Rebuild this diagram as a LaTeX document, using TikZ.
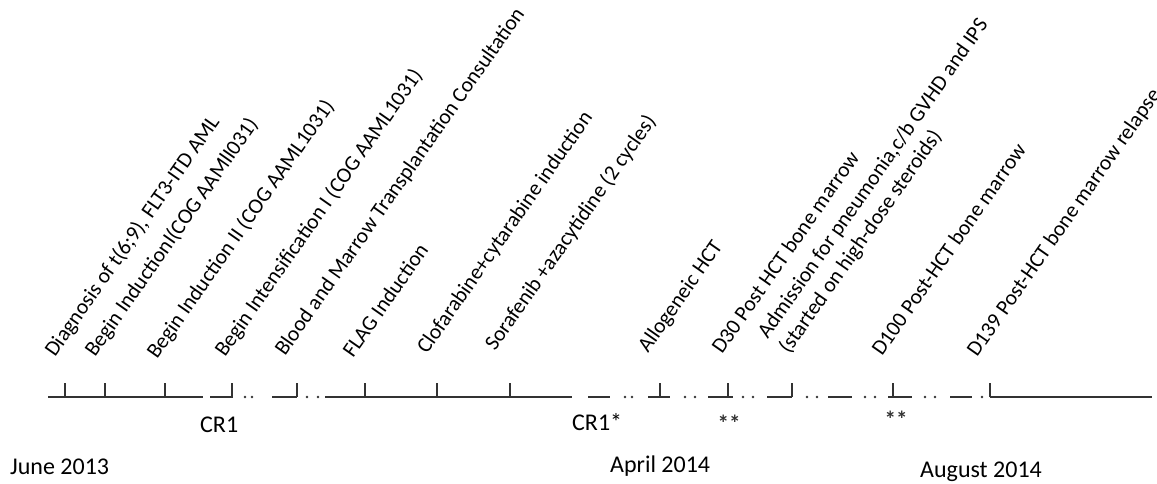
\documentclass[tikz,border=0pt]{standalone}
\usepackage{fontspec}
\setmainfont{Carlito}
\usetikzlibrary{positioning}
\definecolor{linegray}{HTML}{333333}
\tikzstyle{seg}=[draw=linegray, line width=2.6pt]
\tikzstyle{tickmark}=[draw=linegray, line width=2.2pt]
\tikzstyle{evt}=[anchor=base west, inner sep=0pt, rotate=55, font=\fontsize{21.5}{26}\selectfont, align=left]
\tikzstyle{lab}=[anchor=base west, inner sep=0pt, font=\fontsize{24}{28}\selectfont]
\tikzstyle{star}=[anchor=base, inner sep=0pt, text=linegray, font=\fontsize{23}{26}\selectfont\bfseries]

\begin{document}
\begin{tikzpicture}[x=1pt, y=-1pt]
      \useasboundingbox (0,0) rectangle (1157,484);
      % timeline pieces
      \foreach \a/\b in {48/203, 210/233, 272/297, 325/572, 588/610, 648/670,
                         708/733, 767/792, 828/852, 888/912, 950/972, 990/1152}
        \draw[seg] (\a,397) -- (\b,397);
      \foreach \x in {245,252,307,318,625,632,685,695,743,753,807,817,865,875,925,935,982}
        \fill[linegray] (\x,397) circle (1.3pt);
      %
      \foreach \n/\x in {dx/65, ind1/105, ind2/165, intens/232, bmt/297, flag/365,
                         clof/437, sora/510, hct/660, dthirty/728, adm/792,
                         dhundred/893, relapse/990} {
        \coordinate (\n) at (\x,397);
        \draw[tickmark] (\n) -- ++(0,-14);
      }
      % events
      \node[evt] (ldx) at (55,358) {Diagnosis of t(6;9), FLT3-ITD AML};
      \node[evt] (lind1) at (95,358) {Begin InductionI(COG AAMlI031)};
      \node[evt] (lind2) at (157,360) {Begin Induction II (COG AAML1031)};
      \node[evt] (lintens) at (225,358) {Begin Intensification I (COG AAML1031)};
      \node[evt] (lbmt) at (285,357) {Blood and Marrow Transplantation Consultation};
      \node[evt] (lflag) at (353,359) {FLAG Induction};
      \node[evt] (lclof) at (427,355) {Clofarabine+cytarabine induction};
      \node[evt] (lsora) at (495,352) {Sorafenib +azacytidine (2 cycles)};
      \node[evt] (lhct) at (648,354) {Allogeneic HCT};
      \node[evt] (ldthirty) at (722,355) {D30 Post HCT bone marrow};
      \node[evt] (ladm) at (789,355) {Admission for pneumonia,c/b GVHD and IPS\\(started on high-dose steroids)};
      \node[evt] (ldhundred) at (882,357) {D100 Post-HCT bone marrow};
      \node[evt] (lrelapse) at (977,358) {D139 Post-HCT bone marrow relapse};
      % below the line
      \node[lab] (cr1) at (200,432) {CR1};
      \node[lab] (cr1s) at (572,430) {CR1*};
      \node[star] (s1) at (729,431) {**};
      \node[star] (s2) at (896,427) {**};
      \node[lab] (june) at (10,474) {June 2013};
      \node[lab] (april) at (610,472) {April 2014};
      \node[lab] (august) at (920,477) {August 2014};
      %
      \end{tikzpicture}
\end{document}
